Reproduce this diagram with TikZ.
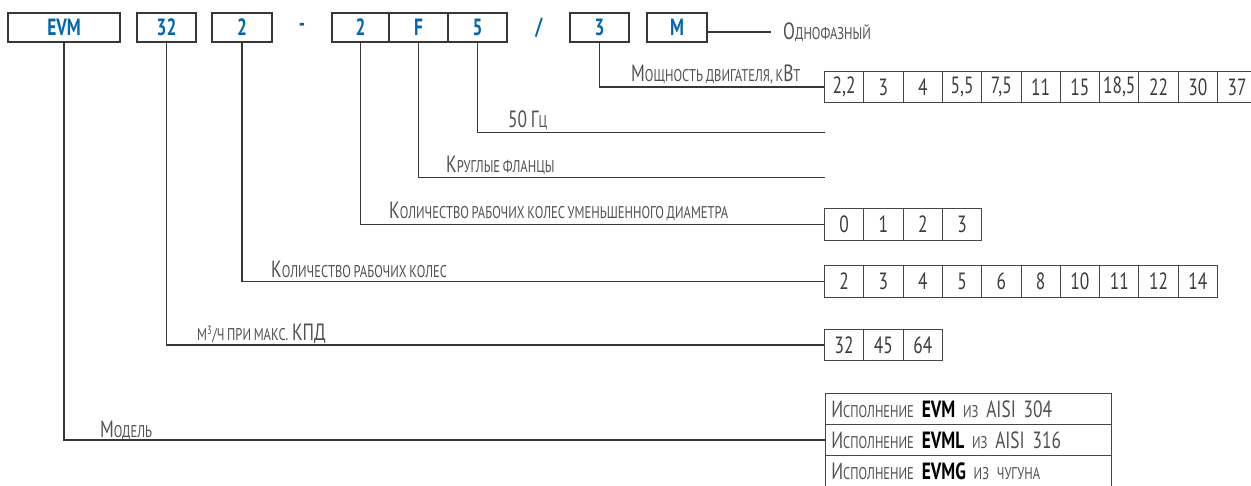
\documentclass[tikz,border=0pt]{standalone}
\usepackage{fontspec}
\setmainfont{PT Sans}[FakeStretch=0.74,WordSpace=0.8]
\definecolor{evmblue}{RGB}{0,102,178}
\definecolor{linec}{RGB}{55,55,55}
\definecolor{cellc}{RGB}{70,70,70}
\definecolor{txtc}{RGB}{80,80,80}
\definecolor{numc}{RGB}{60,60,60}
\newcommand\lblfont{\fontsize{23.5}{25}\selectfont}
\newcommand\smc[1]{{\fontsize{17}{18}\selectfont #1}}
\begin{document}
\begin{tikzpicture}[x=1pt,y=-1pt,
  topbox/.style={draw=linec, line width=1.2pt, minimum height=29pt, inner sep=0pt,
    font=\fontsize{23.5}{23.5}\selectfont\bfseries, text=evmblue},
  sep/.style={inner sep=0pt, font=\fontsize{23.5}{23.5}\selectfont\bfseries, text=evmblue},
  cell/.style={draw=cellc, line width=0.9pt, minimum width=39.3pt, minimum height=31.5pt,
    inner sep=0pt, text=numc, font=\lblfont},
  rowbox/.style={draw=cellc, line width=0.9pt, text width=274pt, inner xsep=6pt, inner ysep=0pt,
    minimum height=31pt, align=left, text=txtc, font=\lblfont},
  conn/.style={draw=linec, line width=1.4pt},
  lbl/.style={anchor=base west, inner sep=0pt, text=txtc, font=\lblfont}]
\useasboundingbox (0,0) rectangle (1251,486);
% top code boxes
\node[topbox, minimum width=112pt] (bevm) at (64,27.5) {EVM};
\node[topbox, minimum width=59pt] (b32) at (166.5,27.5) {32};
\node[topbox, minimum width=60pt] (b2) at (242,27.5) {2};
\node[sep] (dash) at (302,27.5) {-};
\node[topbox, minimum width=57pt] (b2b) at (360.5,27.5) {2};
\node[topbox, minimum width=59pt] (bF) at (418.5,27.5) {F};
\node[topbox, minimum width=59pt] (b5) at (477.5,27.5) {5};
\node[sep] (slash) at (539,27.5) {/};
\node[topbox, minimum width=59pt] (b3) at (599.5,27.5) {3};
\node[topbox, minimum width=60pt] (bM) at (677,27.5) {M};
% single phase
\coordinate (oend) at (771,32);
\draw[conn] (bM.east |- oend) -- (oend);
\node[lbl] (lone) at (783,40) {О\smc{ДНОФАЗНЫЙ}};
% power row
\foreach \v [count=\i] in {{2,2},3,4,{5,5},{7,5},11,15,{18,5},22,30,37}
  \node[cell] (p\i) at ({824.5+39.3*(\i-0.5)},87.2) {\v};
\draw[conn] (b3.south) |- (p1.west);
\node[lbl] (lpow) at (631,82) {М\smc{ОЩНОСТЬ ДВИГАТЕЛЯ, К}В\smc{Т}};
% 50 Hz
\coordinate (e50) at (825,132.3);
\draw[conn] (b5.south) |- (e50);
\node[lbl] (l50) at (508,128) {50 Г\smc{Ц}};
% flanges
\coordinate (efl) at (825,177.7);
\draw[conn] (bF.south) |- (efl);
\node[lbl] (lfl) at (446,173) {К\smc{РУГЛЫЕ ФЛАНЦЫ}};
% reduced diameter
\foreach \v [count=\i] in {0,1,2,3}
  \node[cell] (r\i) at ({824.5+39.3*(\i-0.5)},224.3) {\v};
\draw[conn] (b2b.south) |- (r1.west);
\node[lbl] (lred) at (389,219) {К\smc{ОЛИЧЕСТВО РАБОЧИХ КОЛЕС УМЕНЬШЕННОГО ДИАМЕТРА}};
% impellers
\foreach \v [count=\i] in {2,3,4,5,6,8,10,11,12,14}
  \node[cell] (i\i) at ({824.5+39.3*(\i-0.5)},281.5) {\v};
\draw[conn] (b2.south) |- (i1.west);
\node[lbl] (limp) at (271,278) {К\smc{ОЛИЧЕСТВО РАБОЧИХ КОЛЕС}};
% flow
\foreach \v [count=\i] in {32,45,64}
  \node[cell] (f\i) at ({824.5+39.3*(\i-0.5)},345) {\v};
\draw[conn] (b32.south) |- (f1.west);
\node[lbl] (lflow) at (197,341) {\smc{М\textsuperscript{3}/Ч ПРИ МАКС.} КПД};
% model table
\node[rowbox] (t1) at (968.35,408.8) {И\smc{СПОЛНЕНИЕ} {\bfseries\color{black}EVM} \smc{ИЗ} AISI 304};
\node[rowbox] (t2) at (968.35,439.8) {И\smc{СПОЛНЕНИЕ} {\bfseries\color{black}EVML} \smc{ИЗ} AISI 316};
\node[rowbox] (t3) at (968.35,470.8) {И\smc{СПОЛНЕНИЕ} {\bfseries\color{black}EVMG} \smc{ИЗ ЧУГУНА}};
\draw[conn] (bevm.south) |- (t2.west);
\node[lbl] (lmod) at (100,437) {М\smc{ОДЕЛЬ}};
\end{tikzpicture}
\end{document}
